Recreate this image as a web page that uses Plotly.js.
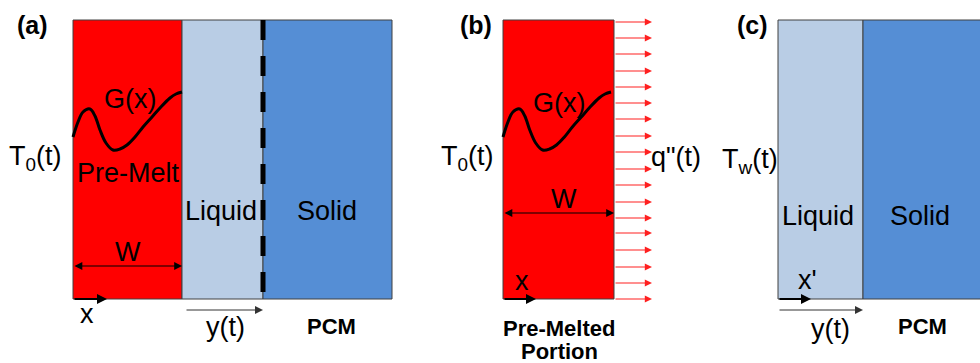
<!DOCTYPE html>
<html>
<head>
<meta charset="utf-8">
<script src="https://cdn.plot.ly/plotly-3.0.1.min.js"></script>
<style>html,body{margin:0;padding:0;background:#fff;}#plot{width:980px;height:363px;}</style>
</head>
<body>
<div id="plot"></div>
<script>
// ---- Diagram data (diagram units = reference pixels) ----
const panelLabels = ['(a)', '(b)', '(c)'];
const regionNames = ['Pre-Melt', 'Liquid', 'Solid', 'Pre-Melted', 'Liquid', 'Solid'];
const regionLeft  = [73, 182, 263, 503, 778, 863];
const regionRight = [182, 263, 392, 614, 863, 990];
const regionTop = 20;
const regionBottom = 299;
const meltFront = 263;                // dashed melt front in (a)
// G(x) initial profile, offset from left edge of pre-melt slab
const gCurveDX = [0, 5, 10, 17, 22, 27, 33, 40, 47, 54, 62, 70, 79, 87, 97, 103, 109];
const gCurveY  = [137, 122, 112, 109, 116, 130, 143, 150, 149, 145, 137, 127, 117, 108, 98, 94, 92];
// heat-flux arrows q''(t) along the right face of (b)
const fluxArrowY = [22, 38, 54, 71, 87, 103, 119, 136, 152, 169, 185, 202, 218, 233, 250, 267, 283, 299];
// Text labels
const labelText = ['(a)', 'T<sub>0</sub>(t)', 'G(x)', 'Pre-Melt', 'Liquid', 'Solid', 'W', 'x', 'y(t)', '<b>PCM</b>',
                   '(b)', 'T<sub>0</sub>(t)', 'G(x)', 'W', 'x', 'q"(t)', '<b>Pre-Melted</b>', '<b>Portion</b>',
                   '(c)', 'T<sub>w</sub>(t)', 'Liquid', 'Solid', "x'", 'y(t)', '<b>PCM</b>'];

// ---- Layout / styling (not data) ----
const labelPos = [
  [32,25],[35,158],[130,99],[128,173],[221,211],[327,211],[128,252],[87,314],[225,327],[331,326],
  [476,25],[467,158],[559,103],[564,199],[522,281],[676,157],[559,328],[559,351],
  [752,25],[750,161],[818,216],[920,216],[807,280],[830,329],[922,326]
];
const bold = t => t.startsWith('(') || t.includes('<b>');
const regionFill = ['#FF0000', '#B9CDE5', '#558ED5', '#FF0000', '#B9CDE5', '#558ED5'];

const FONT = 'Liberation Sans, Arial, sans-serif';
const shapes = [];
regionLeft.forEach((x0, i) => {
  shapes.push({type:'rect', xref:'x', yref:'y', x0:x0, x1:regionRight[i], y0:regionTop, y1:regionBottom,
    fillcolor: regionFill[i], line:{color:'#404040', width:1}, layer:'below'});
});
shapes.push({type:'line', xref:'x', yref:'y', x0:meltFront, x1:meltFront, y0:regionTop, y1:regionBottom,
  line:{color:'#000', width:5, dash:'20px,16px'}});

const traces = [];
[regionLeft[0], regionLeft[3]].forEach((x0, k) => {
  const scale = k === 0 ? 1 : 108/109;
  traces.push({type:'scatter', mode:'lines', x: gCurveDX.map(d => x0 + d*scale), y: gCurveY,
    line:{color:'#000', width:3, shape:'spline', smoothing:1}, hoverinfo:'skip'});
});

const annotations = [];
labelText.forEach((t, i) => {
  const b = bold(t);
  annotations.push({xref:'x', yref:'y', x:labelPos[i][0], y:labelPos[i][1], text: t, showarrow:false,
    xanchor:'center', yanchor:'middle',
    font:{family:FONT, size: t.startsWith('(') ? 25 : (b ? 22 : 27), color:'#000', weight: t.startsWith('(') ? 'bold' : 'normal'}});
});
function arrow(x0, y0, x1, y1, opts) {
  annotations.push(Object.assign({xref:'x', yref:'y', axref:'x', ayref:'y', x:x1, y:y1, ax:x0, ay:y0,
    text:'', showarrow:true, arrowhead:2, arrowsize:1.2, arrowwidth:1.3, arrowcolor:'#000', standoff:0, startstandoff:0}, opts||{}));
}
// W double arrows
arrow(regionLeft[0], 266, regionRight[0], 266, {arrowside:'end+start', arrowwidth:1.2, arrowsize:1.3});
arrow(regionLeft[3], 213, regionRight[3], 213, {arrowside:'end+start', arrowwidth:1.2, arrowsize:1.3});
// x arrows
arrow(regionLeft[0], regionBottom, 107, regionBottom, {arrowwidth:2, arrowsize:1});
arrow(regionLeft[3], regionBottom, 536, regionBottom, {arrowwidth:2, arrowsize:1});
arrow(regionLeft[4], regionBottom, 811, regionBottom, {arrowwidth:2, arrowsize:1});
// y(t) arrows
arrow(185, 310, meltFront, 310, {arrowwidth:1, arrowcolor:'#333', arrowsize:1.6});
arrow(regionLeft[4], 310, regionRight[4], 310, {arrowwidth:1, arrowcolor:'#333', arrowsize:1.6});
// flux arrows
fluxArrowY.forEach(y => arrow(regionRight[3], y, 652, y, {arrowwidth:1.2, arrowcolor:'#FF2020', arrowsize:1.2}));

const layout = {
  width:980, height:363, margin:{l:0, r:0, t:0, b:0},
  paper_bgcolor:'#fff', plot_bgcolor:'#fff', showlegend:false,
  xaxis:{range:[0,980], visible:false, fixedrange:true},
  yaxis:{range:[363,0], visible:false, fixedrange:true},
  shapes: shapes, annotations: annotations,
  font:{family:FONT}
};
Plotly.newPlot('plot', traces, layout, {staticPlot:true, displayModeBar:false});
</script>
</body>
</html>
